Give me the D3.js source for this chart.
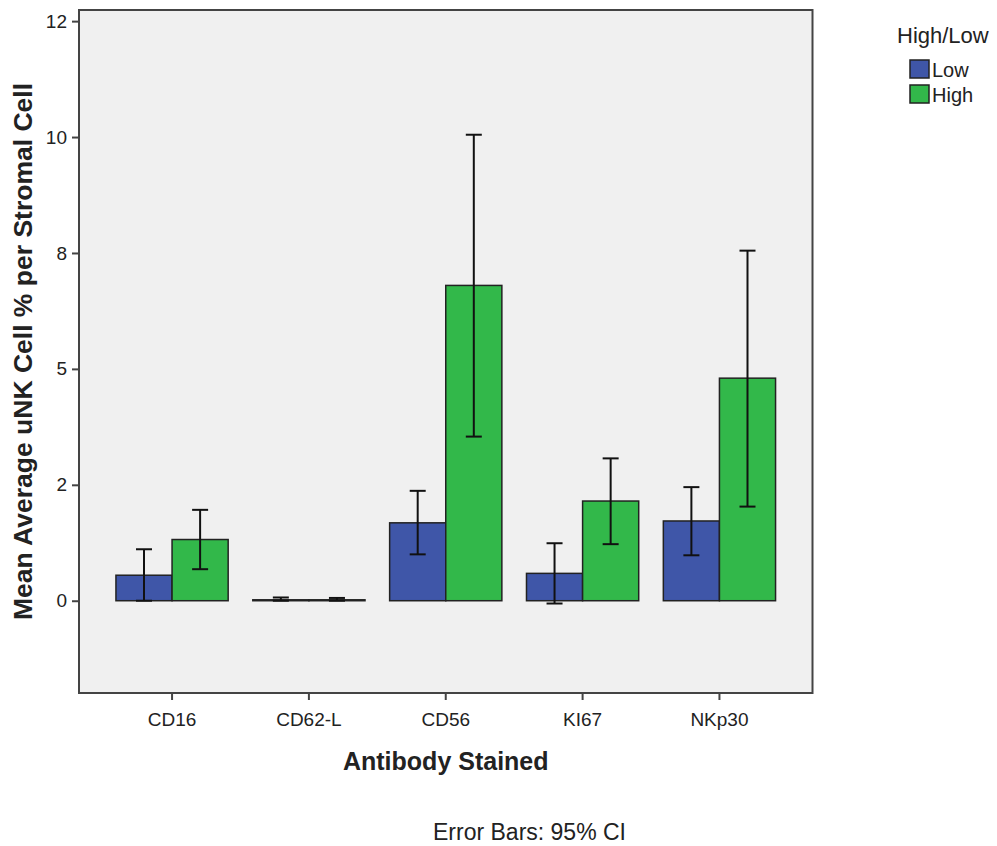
<!DOCTYPE html>
<html>
<head>
<meta charset="utf-8">
<script src="https://cdn.jsdelivr.net/npm/d3@7"></script>
<style>
body { margin: 0; background: #fff; }
text { font-family: "Liberation Sans", Arial, sans-serif; fill: #222; }
</style>
</head>
<body>
<div id="graph"></div>
<script>
// data
var antibodies = ['CD16', 'CD62-L', 'CD56', 'KI67', 'NKp30'];
var groups = ['Low', 'High'];
var lowMean = [0.55, 0.02, 1.68, 0.59, 1.72];
var lowLower = [0.0, 0.0, 1.0, -0.06, 0.98];
var lowUpper = [1.11, 0.07, 2.37, 1.24, 2.45];
var highMean = [1.32, 0.02, 6.80, 2.15, 4.80];
var highLower = [0.68, 0.0, 3.54, 1.22, 2.03];
var highUpper = [1.96, 0.06, 10.05, 3.07, 7.55];
var yTicks = [0, 2.5, 5, 7.5, 10, 12.5];
var yTickLabels = ['0', '2', '5', '8', '10', '12'];
var colors = ['#3f56a8', '#32b84a'];

var svgWidth = 997,
svgHeight = 846,
svg = d3.select('#graph').append('svg').attr('width', svgWidth).attr('height', svgHeight),
margin = {top: 10, right: 184.5, bottom: 153, left: 79},
width = svgWidth - margin.left - margin.right,
height = svgHeight - margin.bottom - margin.top;

var g = svg.append('g').attr('transform', 'translate(' + margin.left + ',' + margin.top + ')');

var x = d3.scaleBand().domain(antibodies).range([0, width]).paddingInner(0.18).paddingOuter(0.27);
var x1 = d3.scaleBand().domain(groups).range([0, x.bandwidth()]);
var y = d3.scaleLinear().domain([-1.99, 12.74]).range([height, 0]);

var rows = [];
antibodies.forEach(function(a, i) {
    rows.push({ab: a, grp: 'Low', mean: lowMean[i], lo: lowLower[i], hi: lowUpper[i]});
    rows.push({ab: a, grp: 'High', mean: highMean[i], lo: highLower[i], hi: highUpper[i]});
});

// plot background
g.append('rect')
    .attr('width', width).attr('height', height)
    .attr('fill', '#f0f0f0');

// bars
g.selectAll('.bar').data(rows)
    .enter().append('rect')
    .attr('class', 'bar')
    .attr('x', function(d) { return x(d.ab) + x1(d.grp); })
    .attr('width', x1.bandwidth())
    .attr('y', function(d) { return y(Math.max(d.mean, 0)); })
    .attr('height', function(d) { return Math.abs(y(d.mean) - y(0)); })
    .attr('fill', function(d) { return colors[groups.indexOf(d.grp)]; })
    .attr('stroke', '#222')
    .attr('stroke-width', 1.5);

// error bars
var cap = 8;
var eb = g.selectAll('.err').data(rows).enter().append('g').attr('class', 'err')
    .attr('transform', function(d) { return 'translate(' + (x(d.ab) + x1(d.grp) + x1.bandwidth() / 2) + ',0)'; });
eb.append('line').attr('y1', function(d) { return y(d.lo); }).attr('y2', function(d) { return y(d.hi); });
eb.append('line').attr('x1', -cap).attr('x2', cap)
    .attr('y1', function(d) { return y(d.hi); }).attr('y2', function(d) { return y(d.hi); });
eb.append('line').attr('x1', -cap).attr('x2', cap)
    .attr('y1', function(d) { return y(d.lo); }).attr('y2', function(d) { return y(d.lo); });
eb.selectAll('line').attr('stroke', '#111').attr('stroke-width', 2);

// frame
g.append('rect')
    .attr('width', width).attr('height', height)
    .attr('fill', 'none').attr('stroke', '#444').attr('stroke-width', 2);

// axes
var xAxis = g.append('g').attr('class', 'axis axis-x')
    .attr('transform', 'translate(0,' + height + ')')
    .call(d3.axisBottom(x).tickSize(7).tickPadding(13));

var yAxis = g.append('g').attr('class', 'axis axis-y')
    .call(d3.axisLeft(y).tickValues(yTicks).tickSize(7).tickPadding(5)
        .tickFormat(function(d, i) { return yTickLabels[i]; }));

svg.selectAll('.axis .domain').remove();
svg.selectAll('.axis line').attr('stroke', '#444').attr('stroke-width', 2);
svg.selectAll('.axis text').style('font-size', '19px').style('font-family', '"Liberation Sans", Arial, sans-serif').attr('fill', '#222');

// axis titles
g.append('text')
    .attr('transform', 'translate(' + (width / 2) + ',' + (height + 77) + ')')
    .style('text-anchor', 'middle')
    .style('font-size', '25px')
    .style('font-weight', 'bold')
    .attr('fill', '#111')
    .text('Antibody Stained');

g.append('text')
    .attr('transform', 'rotate(-90)')
    .attr('x', -height / 2)
    .attr('y', 32 - margin.left)
    .style('text-anchor', 'middle')
    .style('font-size', '26.5px')
    .style('font-weight', 'bold')
    .attr('fill', '#111')
    .text('Mean Average uNK Cell % per Stromal Cell');

// footer
svg.append('text')
    .attr('x', 529.5)
    .attr('y', 840)
    .style('text-anchor', 'middle')
    .style('font-size', '23px')
    .text('Error Bars: 95% CI');

// legend
var legend = svg.append('g').attr('transform', 'translate(910,0)');
legend.append('text')
    .attr('x', -13).attr('y', 43)
    .style('font-size', '22px')
    .text('High/Low');
var item = legend.selectAll('.item').data(groups).enter().append('g').attr('class', 'item')
    .attr('transform', function(d, i) { return 'translate(0,' + (60 + i * 25) + ')'; });
item.append('rect')
    .attr('width', 19).attr('height', 18)
    .attr('fill', function(d, i) { return colors[i]; })
    .attr('stroke', '#222').attr('stroke-width', 1.5);
item.append('text')
    .attr('x', 22).attr('y', 17)
    .style('font-size', '20px')
    .text(function(d) { return d; });
</script>
</body>
</html>
